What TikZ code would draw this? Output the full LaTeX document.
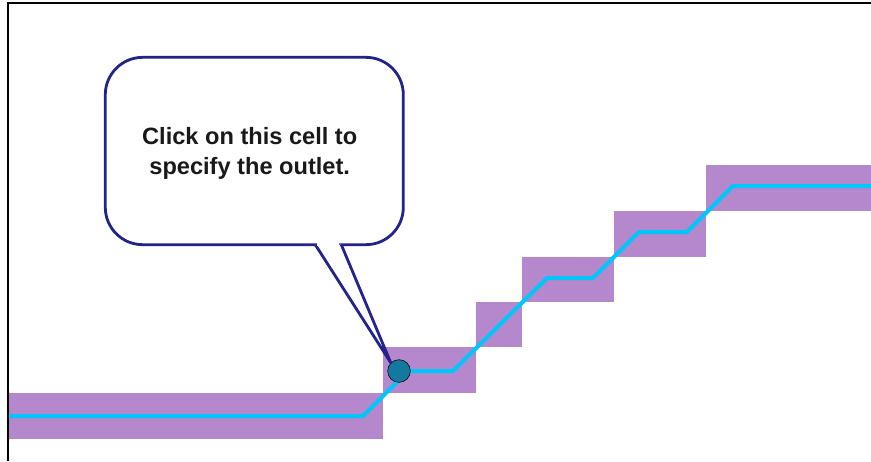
\documentclass[tikz,border=0pt]{standalone}
\usepackage{fontspec}
\setmainfont{Liberation Sans}
\usepackage{xcolor}
\usepackage{tikz}
\usetikzlibrary{calc,positioning}
\definecolor{cellc}{HTML}{B587CC}
\definecolor{flowc}{HTML}{00C6FA}
\definecolor{tipc}{HTML}{23238C}
\definecolor{dotc}{HTML}{14789F}
\tikzset{
  flow/.style={flowc,line width=3pt,line join=miter},
  callbox/.style={draw=tipc,line width=2.1pt,fill=white,rounded corners=28pt,minimum width=223.5pt,minimum height=140.5pt,inner sep=0pt,outer sep=0pt},
  tailln/.style={draw=tipc,line width=2.1pt,fill=white,line join=round},
  msg/.style={font=\bfseries\fontsize{17.7}{22.5}\selectfont,align=center,inner sep=0pt,text=black!90},
  outl/.style={circle,draw=black,thin,fill=dotc,minimum size=17pt,inner sep=0pt}
}
\begin{document}
\begin{tikzpicture}[x=0.75pt,y=-0.75pt]
\useasboundingbox (0,0) rectangle (871,461);
\foreach \xa/\ya/\xb/\yb in {8/393/383/439,383/347/476/393,476/302/522/347,522/257/614/302,614/211/706/257,706/165/871/211}
 \fill[cellc] (\xa,\ya) rectangle (\xb,\yb);
\draw[flow] (8,416)--(363,416)--(408,371)--(453,371)--(547,278)--(593,278)--(639,232)--(687,232)--(733,186)--(871,186);
\node[outl] (outlet) at (399,371) {};
\node[callbox] (callout) at (254.3,151) {};
\draw[tailln] ($(callout.south)+(61,0)$) -- (outlet.north west) -- ($(callout.south)+(87,0)$);
\fill[white] ($(callout.south)+(63,-2)$) rectangle ($(callout.south)+(85,1.2)$);
\node[msg] (note) at (249.7,153) {Click on this cell to\\specify the outlet.};
\draw[black,line width=1.5pt] (871,3.3)--(7.7,3.3)--(7.7,461);
\end{tikzpicture}
\end{document}
